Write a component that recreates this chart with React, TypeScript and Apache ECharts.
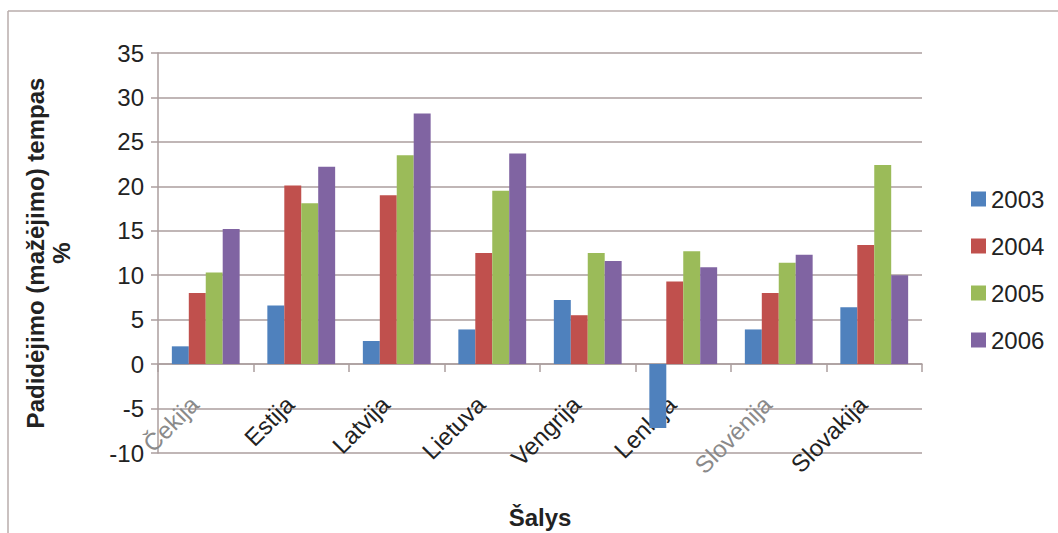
import React, { useEffect, useRef } from "react";
import * as echarts from "echarts";

const categories = ["Čekija", "Estija", "Latvija", "Lietuva", "Vengrija", "Lenkija", "Slovėnija", "Slovakija"];
const seriesNames = ["2003", "2004", "2005", "2006"];
const values2003 = [2.0, 6.6, 2.6, 3.9, 7.2, -7.2, 3.9, 6.4];
const values2004 = [8.0, 20.1, 19.0, 12.5, 5.5, 9.3, 8.0, 13.4];
const values2005 = [10.3, 18.1, 23.5, 19.5, 12.5, 12.7, 11.4, 22.4];
const values2006 = [15.2, 22.2, 28.2, 23.7, 11.6, 10.9, 12.3, 10.0];
const colors = ["#4F81BD", "#C0504D", "#9BBB59", "#8064A2"];
const fadedLabels = ["Čekija", "Slovėnija"];
const xTitle = "Šalys";
const yTitle = "Padidėjimo (mažėjimo) tempas\n%";

const FONT = "'Liberation Sans', Arial, sans-serif";
const GRID = "#ab9e9e";

export default function App() {
  const ref = useRef<HTMLDivElement>(null);
  useEffect(() => {
    if (!ref.current) return;
    const chart = echarts.init(ref.current, undefined, { renderer: "svg" });
    const data = [values2003, values2004, values2005, values2006];
    chart.setOption({
      animation: false,
      backgroundColor: "#ffffff",
      textStyle: { fontFamily: FONT },
      grid: { left: 158, right: 136, top: 53, bottom: 80, containLabel: false, outerBoundsMode: "none" },
      legend: {
        orient: "vertical",
        left: 966,
        top: 182,
        itemWidth: 15,
        itemHeight: 15,
        itemGap: 23,
        icon: "rect",
        data: seriesNames,
        textStyle: { fontSize: 24, color: "#222", fontFamily: FONT },
      },
      xAxis: {
        type: "category",
        data: categories,
        boundaryGap: true,
        axisLine: { onZero: true, lineStyle: { color: GRID, width: 1.5 } },
        axisTick: { show: true, length: 8, lineStyle: { color: GRID, width: 1.5 } },
        axisLabel: {
          interval: 0,
          rotate: 45,
          margin: -64,
          padding: [0, 16, 0, 0],
          fontSize: 24,
          fontFamily: FONT,
          color: "#222",
          formatter: (v: string) => (fadedLabels.includes(v) ? `{f|${v}}` : v),
          rich: { f: { color: "#8a8a8a", fontSize: 24, fontFamily: FONT } },
        },
      },
      yAxis: {
        type: "value",
        min: -10,
        max: 35,
        interval: 5,
        axisLine: { show: true, lineStyle: { color: GRID, width: 1.5 } },
        axisTick: { show: true, length: 7, lineStyle: { color: GRID, width: 1.5 } },
        axisLabel: { fontSize: 24, color: "#222", margin: 14, fontFamily: FONT },
        splitLine: { show: true, lineStyle: { color: GRID, width: 1.5 } },
        name: yTitle,
        nameLocation: "middle",
        nameGap: 84,
        nameMoveOverlap: false,
        nameTextStyle: { fontSize: 24, fontWeight: "bold", color: "#222", fontFamily: FONT, lineHeight: 26 },
      },
      graphic: [
        { type: "line", shape: { x1: 8, y1: 11, x2: 1058, y2: 11 }, style: { stroke: "#b8acab", lineWidth: 1.5 } },
        { type: "line", shape: { x1: 8, y1: 11, x2: 8, y2: 533 }, style: { stroke: "#b8acab", lineWidth: 1.5 } },
        {
          type: "text",
          x: 540,
          y: 517,
          style: { text: xTitle, align: "center", verticalAlign: "middle", font: `bold 24px ${FONT}`, fill: "#222" },
        },
      ],
      series: seriesNames.map((name, i) => ({
        name,
        type: "bar",
        data: data[i],
        barGap: "0%",
        barCategoryGap: "29%",
        itemStyle: { color: colors[i] },
      })),
    });
    return () => chart.dispose();
  }, []);
  return <div ref={ref} style={{ position: "absolute", left: 0, top: 0, width: 1058, height: 533 }} />;
}
